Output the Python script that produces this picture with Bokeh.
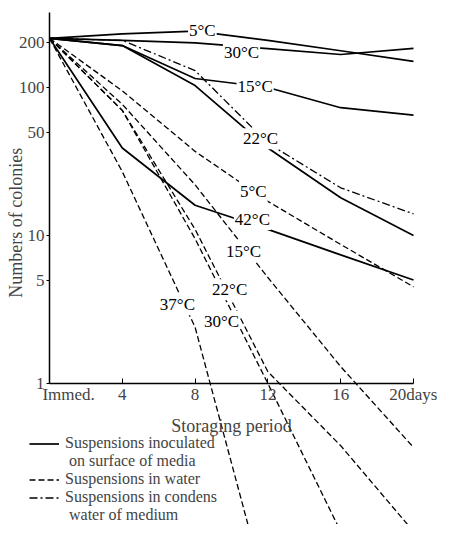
from bokeh.plotting import figure
from bokeh.models import Range1d, FixedTicker, Legend, LegendItem
from bokeh.core.properties import value
from bokeh.embed import file_html
from bokeh.resources import INLINE

nan = float("nan")

# ---- data ----
days = [0, 4, 8, 12, 16, 20]

# Suspensions inoculated on surface of media (solid)
surface_5C = [215, 230, 240, 208, 177, 150]
surface_30C = [215, 208, 200, 183, 167, 184]
surface_15C = [215, 192, 115, 100, 73, 65]
surface_22C = [215, 192, 103, 39, 18, 10]
surface_42C = [215, 39, 16, 11, 7.4, 5.0]

# Suspensions in condens water of medium (dash-dot)
condens_22C = [215, 208, 130, 42, 21, 14]

# Suspensions in water (dashed)
water_5C = [215, 95, 37, 17, 8.7, 4.5]
water_15C = [215, 77, 22, 5.2, 1.3, 0.37]
water_22C = [215, 70, 11, 1.2, 0.38, 0.1]
water_30C = [215, 70, 9.5, 1.0, 0.1, nan]
water_37C = [215, 27, 2.4, 0.035, nan, nan]

# curve labels
label_day = [8.4, 10.55, 11.3, 11.6, 11.2, 11.15, 10.66, 9.9, 7.03, 9.45]
label_val = [243, 172, 101, 45, 19.8, 12.8, 7.8, 4.3, 3.4, 2.62]
label_text = ["5°C", "30°C", "15°C", "22°C", "5°C", "42°C", "15°C", "22°C", "37°C", "30°C"]

x_ticks = [0, 4, 8, 12, 16, 20]
x_tick_labels = ["\u00a0" * 9 + "Immed.", "4", "8", "12", "16", "20days"]
y_ticks = [1, 5, 10, 50, 100, 200]
y_tick_labels = ["1", "5", "10", "50", "100", "200"]

legend_labels = ["Suspensions inoculated", "\u00a0on surface of media",
                 "Suspensions in water",
                 "Suspensions in condens", "\u00a0water of medium"]

FONT = "Liberation Serif"

# the frame fills the whole canvas; both axes are pinned inside it
p = figure(width=437, height=524, output_backend="svg", toolbar_location=None,
           y_axis_type="log", x_range=Range1d(-2.692, 21.319),
           y_range=Range1d(0.1115, 387),
           min_border_left=0, min_border_right=0, min_border_top=0,
           min_border_bottom=0)
p.outline_line_color = None
p.grid.visible = False

# y axis, drawn at day 0
ya = p.yaxis[0]
ya.ticker = FixedTicker(ticks=y_ticks)
ya.major_label_overrides = {t: s for t, s in zip(y_ticks, y_tick_labels)}
ya.fixed_location = 0
ya.bounds = (1, 321)
ya.minor_tick_line_color = None
ya.major_tick_out = 3
ya.major_tick_in = 0
ya.major_label_standoff = 2
ya.axis_label = "Numbers of colonies" + "\u00a0" * 11
ya.axis_label_standoff = -10
ya.axis_label_text_font = FONT
ya.axis_label_text_font_style = "normal"
ya.axis_label_text_font_size = "18px"
ya.major_label_text_font = FONT
ya.major_label_text_font_size = "17px"
ya.axis_line_width = 1.5

# x axis, drawn at value 1
xa = p.xaxis[0]
xa.ticker = FixedTicker(ticks=x_ticks)
xa.major_label_overrides = {t: s for t, s in zip(x_ticks, x_tick_labels)}
xa.fixed_location = 1
xa.bounds = (0, 20)
xa.minor_tick_line_color = None
xa.major_tick_in = 5
xa.major_tick_out = 0
xa.major_label_standoff = 2
xa.axis_label = "Storaging period"
xa.axis_label_standoff = 8
xa.axis_label_text_font = FONT
xa.axis_label_text_font_style = "normal"
xa.axis_label_text_font_size = "18px"
xa.major_label_text_font = FONT
xa.major_label_text_font_size = "17px"
xa.axis_line_width = 1.5

solid = [surface_5C, surface_30C, surface_15C, surface_22C, surface_42C]
dashed = [water_5C, water_15C, water_22C, water_30C, water_37C]

solid_r = [p.line(days, s, line_color="black", line_width=1.7) for s in solid]
dashed_r = [p.line(days, s, line_color="black", line_width=1.3, line_dash="6 3")
            for s in dashed]
dd_r = p.line(days, condens_22C, line_color="black", line_width=1.3,
              line_dash="8 3 2 3")

p.text(x=label_day, y=label_val, text=label_text, text_font=value(FONT),
       text_font_size="17px", text_align="center", text_baseline="middle",
       text_color="black", background_fill_color="white", padding=1)

# legend
leg_blank = p.line([], [], line_alpha=0)
renderers = [solid_r[0], leg_blank, dashed_r[0], dd_r, leg_blank]
items = [LegendItem(label=l, renderers=[r]) for l, r in zip(legend_labels, renderers)]
legend = Legend(items=items, location=(29, 0), orientation="vertical",
                glyph_width=30, glyph_height=15, label_height=15, spacing=0,
                padding=0, margin=0, label_standoff=6, border_line_color=None,
                background_fill_alpha=0, label_text_font=FONT,
                label_text_font_size="16px", label_text_line_height=1.0,
                label_text_baseline="middle")
p.add_layout(legend, "center")

open("out.html", "w").write(file_html(p, INLINE))
